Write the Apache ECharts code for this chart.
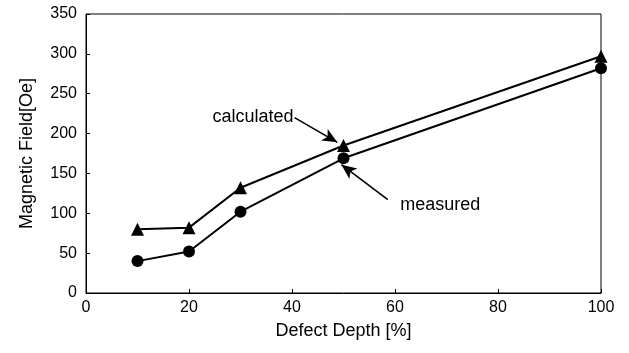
<!DOCTYPE html>
<html>
<head>
<meta charset="utf-8">
<script src="https://cdn.jsdelivr.net/npm/echarts@6/dist/echarts.min.js"></script>
<style>
  html, body { margin: 0; padding: 0; background: #fff; }
  #chart { width: 629px; height: 353px; }
</style>
</head>
<body>
<div id="chart"></div>
<script>
const depth = [10, 20, 30, 50, 100];
const calculated = [80, 82, 132, 185, 297];
const measured = [40, 52, 102, 169, 282];

// arrow annotations, in data units: [tail, tip]
const calcArrow = [[40.5, 220], [48.8, 189]];
const measArrow = [[58.6, 117], [49.6, 161]];
const calcLabelAt = [40.3, 221];
const measLabelAt = [61, 110];

const font = 'Liberation Sans, Arial, sans-serif';

const arrow = (pts) => ({
  silent: true,
  symbol: ['none', 'arrow'],
  symbolSize: [10, 15],
  lineStyle: { color: '#000', width: 1.6, type: 'solid' },
  label: { show: false },
  data: [[{ coord: pts[0] }, { coord: pts[1] }]],
});

const note = (at, text, pos) => ({
  silent: true,
  symbol: 'circle',
  symbolSize: 0,
  label: {
    show: true,
    position: pos,
    distance: 0,
    formatter: text,
    color: '#000',
    fontSize: 18,
    fontFamily: font,
  },
  data: [{ coord: at }],
});

const chart = echarts.init(document.getElementById('chart'));
chart.setOption({
  animation: false,
  grid: {
    left: 86, right: 28, top: 14, bottom: 60,
    show: true, borderColor: '#000', borderWidth: 1,
  },
  xAxis: {
    type: 'value',
    min: 0, max: 100, interval: 20,
    name: 'Defect Depth [%]',
    nameLocation: 'middle',
    nameGap: 29,
    nameTextStyle: { color: '#000', fontSize: 18, fontFamily: font },
    axisLine: { lineStyle: { color: '#000' } },
    axisTick: { inside: true, length: 4, lineStyle: { color: '#000' } },
    axisLabel: { color: '#000', fontSize: 16, fontFamily: font, margin: 7 },
    splitLine: { show: false },
  },
  yAxis: {
    type: 'value',
    min: 0, max: 350, interval: 50,
    name: 'Magnetic Field[Oe]',
    nameLocation: 'middle',
    nameGap: 50,
    nameTextStyle: { color: '#000', fontSize: 18, fontFamily: font },
    axisLine: { show: true, lineStyle: { color: '#000' } },
    axisTick: { show: true, inside: true, length: 4, lineStyle: { color: '#000' } },
    axisLabel: { color: '#000', fontSize: 16, fontFamily: font, margin: 9 },
    splitLine: { show: false },
  },
  series: [
    {
      name: 'calculated',
      type: 'line',
      data: depth.map((d, i) => [d, calculated[i]]),
      symbol: 'triangle',
      symbolSize: 13,
      itemStyle: { color: '#000' },
      lineStyle: { color: '#000', width: 2 },
      markLine: arrow(calcArrow),
      markPoint: note(calcLabelAt, 'calculated', 'left'),
    },
    {
      name: 'measured',
      type: 'line',
      data: depth.map((d, i) => [d, measured[i]]),
      symbol: 'circle',
      symbolSize: 12,
      itemStyle: { color: '#000' },
      lineStyle: { color: '#000', width: 2 },
      markLine: arrow(measArrow),
      markPoint: note(measLabelAt, 'measured', 'right'),
    },
  ],
});
</script>
</body>
</html>
